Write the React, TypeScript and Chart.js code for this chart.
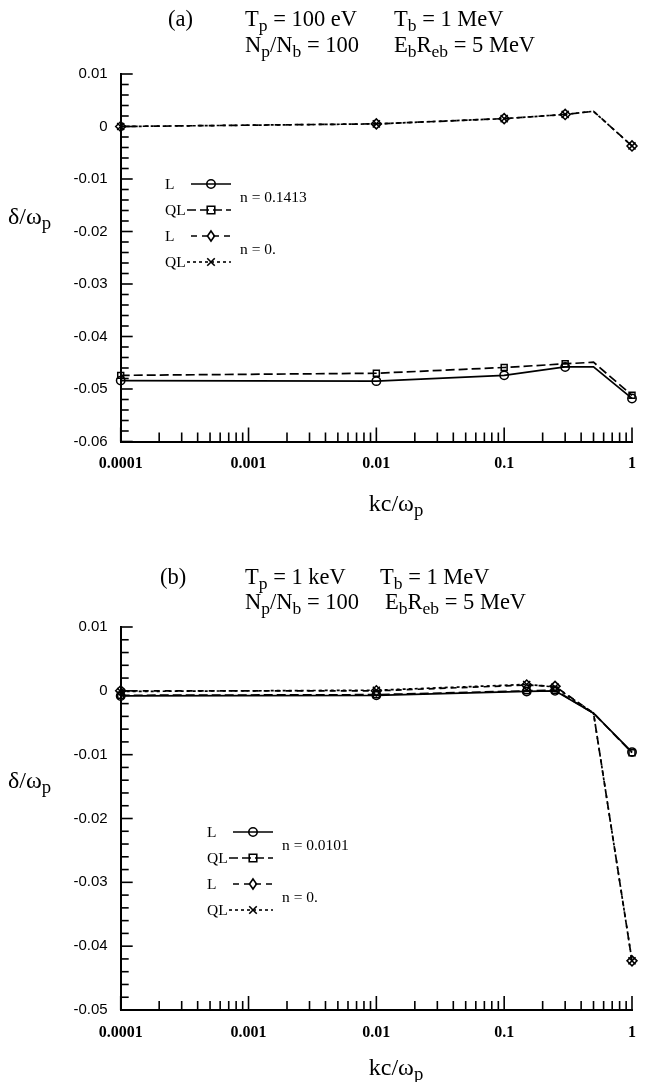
import React, { useEffect, useRef } from 'react';
import { Chart, registerables } from 'chart.js';
Chart.register(...registerables);

// ---------- data ----------
const X_TICK_VALUES = [0.0001, 0.001, 0.01, 0.1, 1];
const X_TICK_LABELS = ['0.0001', '0.001', '0.01', '0.1', '1'];
const SERIES_NAMES = ['L', 'QL', 'L', 'QL'];

// Panel (a)
const A_KC = [0.0001, 0.01, 0.1, 0.3, 0.5, 1];
const A_MARKED = [1, 1, 1, 1, 0, 1];
const A_L_N01413 = [-0.0484, -0.0485, -0.0474, -0.0458, -0.0458, -0.0518];
const A_QL_N01413 = [-0.0474, -0.047, -0.0459, -0.0452, -0.0449, -0.0512];
const A_L_N0 = [0.0, 0.0005, 0.0015, 0.0023, 0.0029, -0.0037];
const A_QL_N0 = [0.0, 0.0005, 0.0015, 0.0023, 0.0029, -0.0037];
const A_Y_TICKS = [-0.06, -0.05, -0.04, -0.03, -0.02, -0.01, 0, 0.01];
const A_Y_LABELS = ['-0.06', '-0.05', '-0.04', '-0.03', '-0.02', '-0.01', '0', '0.01'];
const A_N_LABELS = ['n = 0.1413', 'n = 0.'];

// Panel (b)
const B_KC = [0.0001, 0.01, 0.15, 0.25, 0.5, 1];
const B_MARKED = [1, 1, 1, 1, 0, 1];
const B_L_N00101 = [-0.0008, -0.0007, -0.0001, 0.0, -0.0035, -0.0096];
const B_QL_N00101 = [-0.0007, -0.0006, 0.0, 0.0001, -0.0035, -0.0097];
const B_L_N0 = [0.0, 0.0, 0.0009, 0.0007, -0.0035, -0.0423];
const B_QL_N0 = [-0.0001, 0.0001, 0.001, 0.0006, -0.0035, -0.0423];
const B_Y_TICKS = [-0.05, -0.04, -0.03, -0.02, -0.01, 0, 0.01];
const B_Y_LABELS = ['-0.05', '-0.04', '-0.03', '-0.02', '-0.01', '0', '0.01'];
const B_N_LABELS = ['n = 0.0101', 'n = 0.'];

// ---------- styles ----------
const SERIF = '"Liberation Serif", "Times New Roman", serif';
const SANS = '"Liberation Sans", Arial, sans-serif';
const STYLES = [
  { dash: [] as number[], marker: 'circle', r: 4.2 },
  { dash: [9, 4], marker: 'rect', r: 4.2 },
  { dash: [6, 5], marker: 'rectRot', r: 5 },
  { dash: [3, 3], marker: 'crossRot', r: 5 },
];

type Part = [string, number];
type Seg = { x: number; parts: Part[] };

function drawRich(ctx: CanvasRenderingContext2D, x: number, yc: number, parts: Part[], size: number, family: string, align = 'left') {
  const sub = size * 0.78;
  let total = 0;
  const widths = parts.map(([t, s]) => {
    ctx.font = `${s ? sub : size}px ${family}`;
    const w = ctx.measureText(t).width;
    total += w;
    return w;
  });
  let cx = align === 'center' ? x - total / 2 : x;
  const base = yc + size * 0.33;
  ctx.textAlign = 'left';
  ctx.textBaseline = 'alphabetic';
  parts.forEach(([t, s], i) => {
    ctx.font = `${s ? sub : size}px ${family}`;
    ctx.fillText(t, cx, s ? base + size * 0.22 : base);
    cx += widths[i];
  });
}

function drawMarker(ctx: CanvasRenderingContext2D, style: string, x: number, y: number, r: number) {
  ctx.beginPath();
  if (style === 'circle') {
    ctx.arc(x, y, r, 0, Math.PI * 2);
  } else if (style === 'rect') {
    const h = r * 0.9;
    ctx.rect(x - h, y - h, 2 * h, 2 * h);
  } else if (style === 'rectRot') {
    ctx.moveTo(x, y - r);
    ctx.lineTo(x + r * 0.7, y);
    ctx.lineTo(x, y + r);
    ctx.lineTo(x - r * 0.7, y);
    ctx.closePath();
  } else {
    const h = r * 0.75;
    ctx.moveTo(x - h, y - h);
    ctx.lineTo(x + h, y + h);
    ctx.moveTo(x + h, y - h);
    ctx.lineTo(x - h, y + h);
  }
  ctx.stroke();
}

type PanelProps = {
  top: number;
  height: number;
  plotTop: number;
  plotBottom: number;
  kc: number[];
  marked: number[];
  series: number[][];
  yTicks: number[];
  yLabels: string[];
  nLabels: string[];
  tag: string;
  tagX: number;
  line1: Seg[];
  line2: Seg[];
  titleY: [number, number];
  yTitleY: number;
  xTitleY: number;
  legendRows: number[];
  legendX: number;
  markerX: number;
  nX: number;
  nY: [number, number];
};

const PLOT_LEFT = 120.7;
const PLOT_RIGHT = 640.7;
const WIDTH = 649;
const TITLE_SIZE = 22.5;

function Panel(p: PanelProps) {
  const ref = useRef<HTMLCanvasElement | null>(null);
  useEffect(() => {
    const canvas = ref.current;
    if (!canvas) return;
    const yMin = Math.min(...p.yTicks);
    const yMax = Math.max(...p.yTicks);
    const deco = {
      id: 'deco',
      afterDraw(chart: any) {
        const ctx: CanvasRenderingContext2D = chart.ctx;
        const xs = chart.scales.x;
        const ys = chart.scales.y;
        const area = chart.chartArea;
        ctx.save();
        ctx.strokeStyle = '#000';
        ctx.fillStyle = '#000';
        ctx.lineWidth = 1.6;
        ctx.setLineDash([]);
        // x ticks (inward)
        for (let d = -4; d <= 0; d++) {
          for (let m = 1; m <= 9; m++) {
            const v = m * Math.pow(10, d);
            if (v > 1.000001) break;
            const px = xs.getPixelForValue(v);
            const len = m === 1 ? 14 : 9;
            ctx.beginPath();
            ctx.moveTo(px, area.bottom);
            ctx.lineTo(px, area.bottom - len);
            ctx.stroke();
          }
        }
        // y ticks (inward)
        const n = Math.round((yMax - yMin) / 0.002);
        for (let i = 0; i <= n; i++) {
          const v = yMin + i * 0.002;
          const py = ys.getPixelForValue(v);
          const len = i % 5 === 0 ? 12 : 8;
          ctx.beginPath();
          ctx.moveTo(area.left, py);
          ctx.lineTo(area.left + len, py);
          ctx.stroke();
        }
        // titles
        drawRich(ctx, p.tagX, p.titleY[0], [[p.tag, 0]], TITLE_SIZE, SERIF);
        p.line1.forEach((s) => drawRich(ctx, s.x, p.titleY[0], s.parts, TITLE_SIZE, SERIF));
        p.line2.forEach((s) => drawRich(ctx, s.x, p.titleY[1], s.parts, TITLE_SIZE, SERIF));
        // axis titles
        drawRich(ctx, 8, p.yTitleY, [['δ/ω', 0], ['p', 1]], 24, SERIF);
        drawRich(ctx, 396, p.xTitleY, [['kc/ω', 0], ['p', 1]], 24, SERIF, 'center');
        // legend
        p.legendRows.forEach((ry, i) => {
          const st = STYLES[i];
          drawRich(ctx, p.legendX, ry, [[SERIES_NAMES[i], 0]], 15.5, SERIF);
          const x0 = i % 2 === 0 ? p.markerX - 20 : p.markerX - 24;
          const x1 = p.markerX + 20;
          ctx.lineWidth = 1.6;
          ctx.setLineDash(st.dash);
          ctx.beginPath();
          ctx.moveTo(x0, ry);
          ctx.lineTo(x1, ry);
          ctx.stroke();
          ctx.setLineDash([]);
          drawMarker(ctx, st.marker, p.markerX, ry, st.r);
        });
        drawRich(ctx, p.nX, p.nY[0], [[p.nLabels[0], 0]], 15.5, SERIF);
        drawRich(ctx, p.nX, p.nY[1], [[p.nLabels[1], 0]], 15.5, SERIF);
        ctx.restore();
      },
    };

    const datasets = p.series.map((vals, i) => ({
      label: SERIES_NAMES[i],
      data: p.kc.map((k, j) => ({ x: k, y: vals[j] })),
      borderColor: '#000',
      borderWidth: 1.7,
      borderDash: STYLES[i].dash,
      pointStyle: STYLES[i].marker,
      pointRadius: p.marked.map((m) => (m ? STYLES[i].r : 0)),
      pointBorderColor: '#000',
      pointBackgroundColor: 'rgba(0,0,0,0)',
      pointBorderWidth: 1.5,
      fill: false,
      tension: 0,
      clip: false as any,
    }));

    const xAxisH = 40;
    const chart = new Chart(canvas, {
      type: 'line',
      data: { datasets },
      options: {
        responsive: false,
        animation: false,
        devicePixelRatio: 1,
        layout: {
          padding: {
            top: p.plotTop,
            right: WIDTH - PLOT_RIGHT,
            left: 0,
            bottom: p.height - p.plotBottom - xAxisH,
          },
        },
        plugins: { legend: { display: false }, tooltip: { enabled: false } },
        scales: {
          x: {
            type: 'logarithmic',
            min: 0.0001,
            max: 1,
            grid: { display: false, drawTicks: false },
            border: { display: true, color: '#000', width: 2 },
            afterBuildTicks: (s: any) => {
              s.ticks = X_TICK_VALUES.map((v) => ({ value: v }));
            },
            afterFit: (s: any) => {
              s.height = xAxisH;
            },
            ticks: {
              autoSkip: false,
              maxRotation: 0,
              minRotation: 0,
              padding: 13,
              color: '#000',
              font: { family: SERIF, size: 16, weight: 'bold' },
              callback: (v: any) => {
                const idx = X_TICK_VALUES.findIndex((t) => Math.abs(t - Number(v)) < t * 1e-6);
                return idx >= 0 ? X_TICK_LABELS[idx] : '';
              },
            },
          },
          y: {
            type: 'linear',
            min: yMin,
            max: yMax,
            grid: { display: false, drawTicks: false },
            border: { display: true, color: '#000', width: 2 },
            afterBuildTicks: (s: any) => {
              s.ticks = p.yTicks.map((v) => ({ value: v }));
            },
            afterFit: (s: any) => {
              s.width = PLOT_LEFT;
            },
            ticks: {
              autoSkip: false,
              padding: 13,
              color: '#000',
              font: { family: SANS, size: 15 },
              callback: (v: any) => {
                const idx = p.yTicks.findIndex((t) => Math.abs(t - Number(v)) < 1e-9);
                return idx >= 0 ? p.yLabels[idx] : '';
              },
            },
          },
        },
      } as any,
      plugins: [deco],
    });
    return () => chart.destroy();
  }, []);
  return (
    <canvas
      ref={ref}
      width={WIDTH}
      height={p.height}
      style={{ position: 'absolute', left: 0, top: p.top, width: WIDTH, height: p.height }}
    />
  );
}

export default function App() {
  return (
    <div style={{ position: 'absolute', left: 0, top: 0, width: WIDTH, height: 1082, background: '#fff' }}>
      <Panel
        top={0}
        height={541}
        plotTop={74}
        plotBottom={441.5}
        kc={A_KC}
        marked={A_MARKED}
        series={[A_L_N01413, A_QL_N01413, A_L_N0, A_QL_N0]}
        yTicks={A_Y_TICKS}
        yLabels={A_Y_LABELS}
        nLabels={A_N_LABELS}
        tag="(a)"
        tagX={168}
        line1={[
          { x: 245, parts: [['T', 0], ['p', 1], [' = 100 eV', 0]] },
          { x: 394, parts: [['T', 0], ['b', 1], [' = 1 MeV', 0]] },
        ]}
        line2={[
          { x: 245, parts: [['N', 0], ['p', 1], ['/N', 0], ['b', 1], [' = 100', 0]] },
          { x: 394, parts: [['E', 0], ['b', 1], ['R', 0], ['eb', 1], [' = 5 MeV', 0]] },
        ]}
        titleY={[19, 45]}
        yTitleY={216}
        xTitleY={503}
        legendRows={[184, 210, 236, 262]}
        legendX={165}
        markerX={211}
        nX={240}
        nY={[197, 249]}
      />
      <Panel
        top={541}
        height={541}
        plotTop={86}
        plotBottom={469}
        kc={B_KC}
        marked={B_MARKED}
        series={[B_L_N00101, B_QL_N00101, B_L_N0, B_QL_N0]}
        yTicks={B_Y_TICKS}
        yLabels={B_Y_LABELS}
        nLabels={B_N_LABELS}
        tag="(b)"
        tagX={160}
        line1={[
          { x: 245, parts: [['T', 0], ['p', 1], [' = 1 keV', 0]] },
          { x: 380, parts: [['T', 0], ['b', 1], [' = 1 MeV', 0]] },
        ]}
        line2={[
          { x: 245, parts: [['N', 0], ['p', 1], ['/N', 0], ['b', 1], [' = 100', 0]] },
          { x: 385, parts: [['E', 0], ['b', 1], ['R', 0], ['eb', 1], [' = 5 MeV', 0]] },
        ]}
        titleY={[36, 61]}
        yTitleY={239}
        xTitleY={526}
        legendRows={[291, 317, 343, 369]}
        legendX={207}
        markerX={253}
        nX={282}
        nY={[304, 356]}
      />
    </div>
  );
}
